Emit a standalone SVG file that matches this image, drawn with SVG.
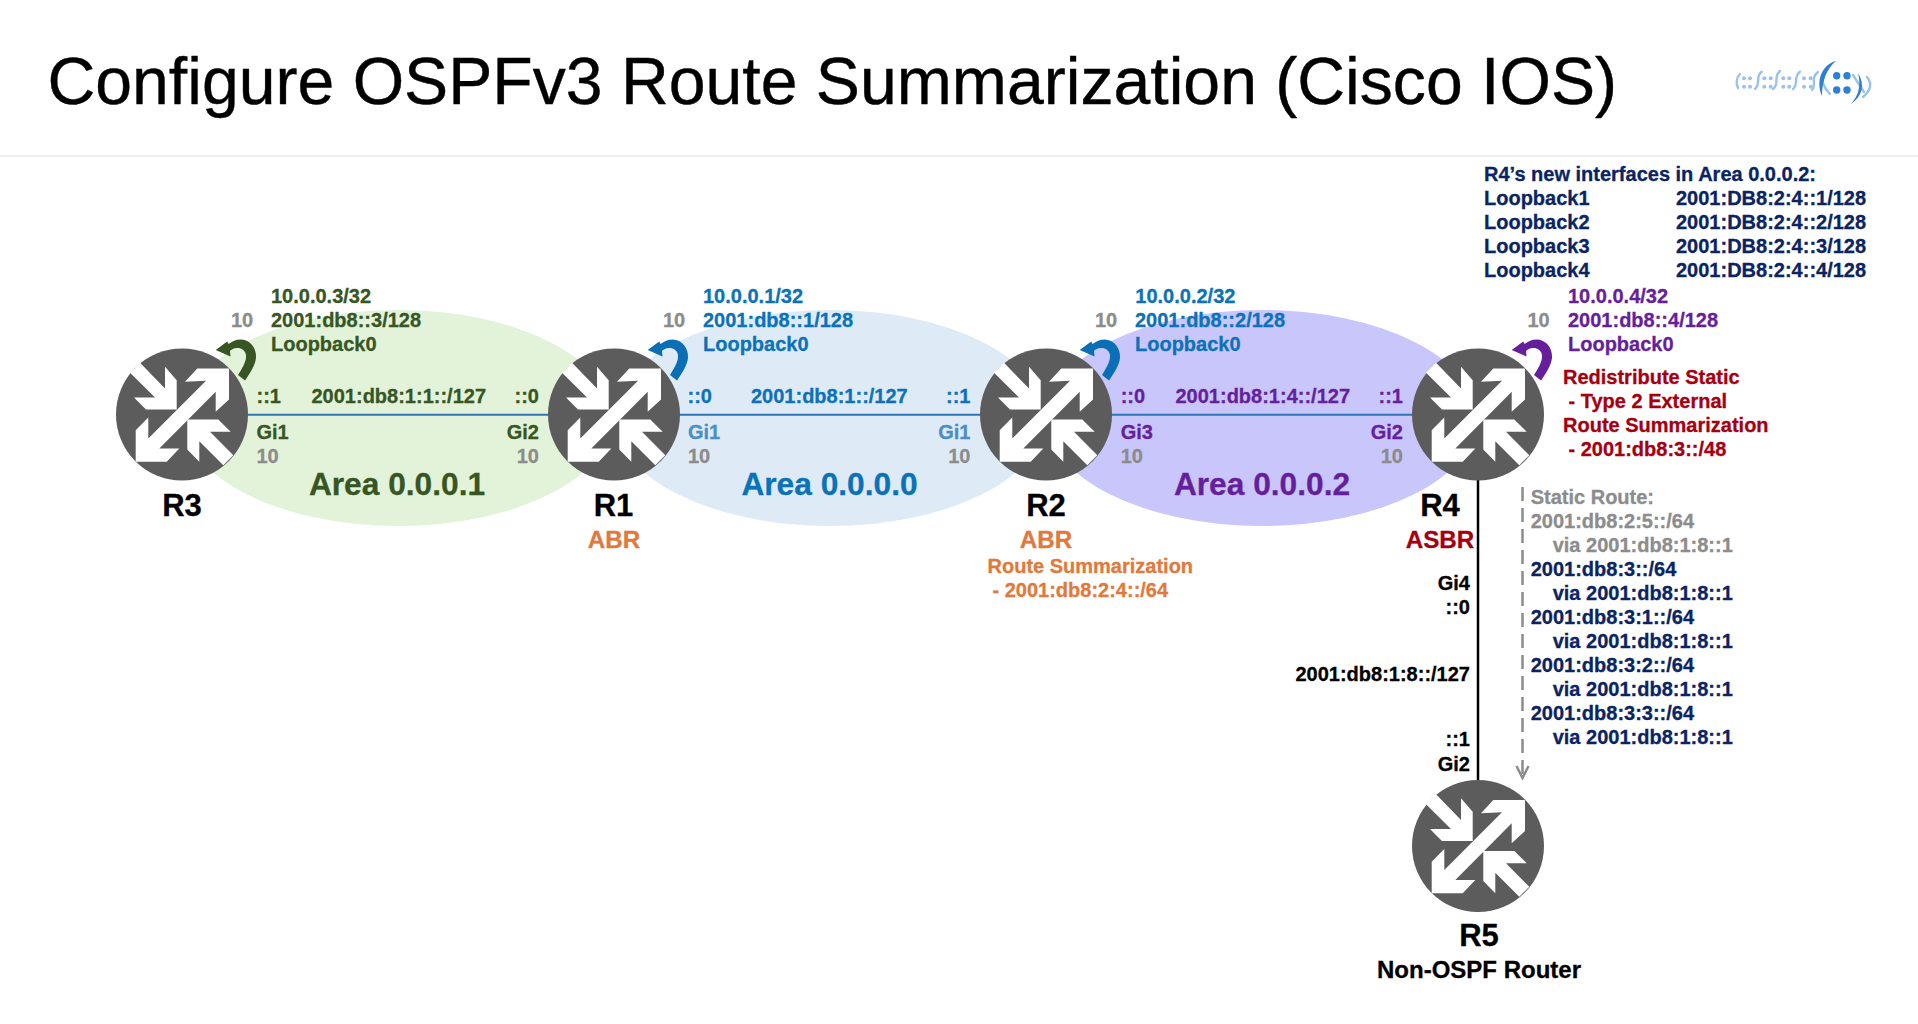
<svg xmlns="http://www.w3.org/2000/svg" xmlns:xlink="http://www.w3.org/1999/xlink" width="1918" height="1024" viewBox="0 0 1918 1024">
<style>
text{font-family:"Liberation Sans",Arial,sans-serif;font-weight:bold;font-size:20px;stroke-width:.3}
.end{text-anchor:end}.mid{text-anchor:middle}
.name{font-size:31px;fill:#000;stroke:#000;text-anchor:middle}
.role{font-size:24.2px;text-anchor:middle}
.area{font-size:31.7px;text-anchor:middle}
.title{font-size:66.15px;font-weight:normal;fill:#000;stroke:#000;stroke-width:.4}
.g{fill:#375623;stroke:#375623}.b{fill:#0b72b9;stroke:#0b72b9}.lb{fill:#4a8ec6;stroke:#4a8ec6}.p{fill:#661f9c;stroke:#661f9c}.c{fill:#8c8c8c;stroke:#8c8c8c}.o{fill:#e07a3c;stroke:#e07a3c}.r{fill:#a50010;stroke:#a50010}.n{fill:#0a2463;stroke:#0a2463}.k{fill:#000;stroke:#000}
</style>
<defs>
<g id="router">
<circle r="66" fill="#5c5c5c"/>
<path fill="#fff" d="M15.3,-46H47V-15L33.7,-2.7V-22.7L-22.7,34H-2.7L-15.3,47.3H-46.3V15.7L-33.7,3V24L24,-33.7L3,-32.7Z"/>
<path fill="#fff" d="M-42,-51.7L-17,-26V-47.7L-5.3,-34.3V-5H-36L-48,-17H-27L-52,-41.7Z"/>
<path fill="#fff" d="M5.3,5H36.3L48.7,17.3H28L51.3,40.7L41.3,50.7L17.3,26.7V47.3L5.3,35Z"/>
</g>
<path id="loop" d="M56,-39.5C60,-46 64.5,-53 64,-59C63.5,-64.5 59,-67 54,-66.5C51,-66 49.5,-65 48,-63.5L48.5,-58L33.7,-64.5L45.2,-73L46.5,-70.5C50,-73 54,-75 58.5,-75C68,-75 74.5,-66.5 74,-57C73.5,-50 68.5,-42 63,-34Z"/>
<marker id="open" markerWidth="16" markerHeight="16" refX="13" refY="7" orient="auto" markerUnits="userSpaceOnUse"><path d="M1,1L13,7L1,13" fill="none" stroke="#8c8c8c" stroke-width="2.5"/></marker>
</defs>
<rect width="1918" height="1024" fill="#fff"/>
<text id="title" class="title" x="47.5" y="104">Configure OSPFv3 Route Summarization (Cisco IOS)</text>
<line x1="0" y1="156" x2="1918" y2="156" stroke="#e8e8e8" stroke-width="1.5"/>
<g id="logo" fill="none" stroke-linecap="round">
<g fill="#9cc2ea"><circle cx="1744" cy="78.3" r="2"/><circle cx="1750" cy="78.3" r="2"/><circle cx="1744" cy="86.7" r="2"/><circle cx="1750" cy="86.7" r="2"/><circle cx="1764.3" cy="78.3" r="2"/><circle cx="1770.7" cy="78.3" r="2"/><circle cx="1764.3" cy="86.7" r="2"/><circle cx="1770.7" cy="86.7" r="2"/><circle cx="1783.3" cy="78.3" r="2"/><circle cx="1789.3" cy="78.3" r="2"/><circle cx="1783.3" cy="86.7" r="2"/><circle cx="1789.3" cy="86.7" r="2"/><circle cx="1804" cy="78.3" r="2"/><circle cx="1810.7" cy="78.3" r="2"/><circle cx="1804" cy="86.7" r="2"/><circle cx="1810.7" cy="86.7" r="2"/></g>
<g stroke="#9cc2ea" stroke-width="2.4"><path d="M1740,74C1736,78 1736,84 1738,88"/><path d="M1761.7,71.7C1755,76 1761,84 1755,89"/><path d="M1780,71C1773,76 1780,84 1773,89"/><path d="M1800,71.7C1793,76 1799,84 1793,89"/><path d="M1818,72C1810,78 1817,85 1812,90"/><path d="M1824,74C1820,80 1824,88 1830,94"/><path d="M1867,77C1872,83 1871,90 1863,97"/><path d="M1853,75L1864,92"/></g>
<g fill="#2f7ed8"><circle cx="1836.7" cy="75.7" r="3.7"/><circle cx="1847" cy="75.7" r="3.7"/><circle cx="1836.7" cy="90" r="3.7"/><circle cx="1847" cy="90" r="3.7"/></g>
<path fill="#2f7ed0" d="M1836,61C1823,64 1815,80 1822,96C1822,82 1826,69 1836,61Z"/>
<path fill="#2f7ed0" d="M1858,73C1865,84 1863,96 1851,104C1859,95 1861,85 1858,73Z"/>
</g>
<g id="areas">
<ellipse cx="398" cy="418" rx="214" ry="108" fill="#e2f3d9"/>
<ellipse cx="830" cy="418" rx="215" ry="108" fill="#deebf7"/>
<ellipse cx="1262" cy="418" rx="215" ry="108" fill="#c9c6fb"/>
</g>
<g id="connectors" fill="none">
<line x1="248" y1="414.7" x2="1412" y2="414.7" stroke="#2e75b6" stroke-width="2"/>
<line x1="1478" y1="480" x2="1478" y2="781" stroke="#000" stroke-width="2.5"/>
<line x1="1522.5" y1="487" x2="1522.5" y2="778" stroke="#8c8c8c" stroke-width="2.5" stroke-dasharray="14 7" marker-end="url(#open)"/>
</g>
<g id="R3"><use xlink:href="#router" href="#router" x="182" y="414.5"/><use xlink:href="#loop" href="#loop" x="182" y="414.5" fill="#375623"/>
<text class="name" x="182" y="516">R3</text>
<text class="g" x="271" y="302.7">10.0.0.3/32</text><text class="g" x="271" y="327">2001:db8::3/128</text><text class="g" x="271" y="351">Loopback0</text><text class="c" x="231" y="327">10</text></g>
<g id="R1"><use xlink:href="#router" href="#router" x="614" y="414.5"/><use xlink:href="#loop" href="#loop" x="614" y="414.5" fill="#0b6fb5"/>
<text class="name" x="613.5" y="516">R1</text><text class="role o" x="614" y="547.5">ABR</text>
<text class="b" x="703" y="302.7">10.0.0.1/32</text><text class="b" x="703" y="327">2001:db8::1/128</text><text class="b" x="703" y="351">Loopback0</text><text class="c" x="663" y="327">10</text></g>
<g id="R2"><use xlink:href="#router" href="#router" x="1046" y="414.5"/><use xlink:href="#loop" href="#loop" x="1046" y="414.5" fill="#0b6fb5"/>
<text class="name" x="1046" y="516">R2</text><text class="role o" x="1046" y="547.5">ABR</text>
<text class="o" x="987.5" y="572.7">Route Summarization</text><text class="o" x="992.5" y="597.2">- 2001:db8:2:4::/64</text>
<text class="b" x="1135.3" y="302.7">10.0.0.2/32</text><text class="b" x="1135" y="327">2001:db8::2/128</text><text class="b" x="1135" y="351">Loopback0</text><text class="c" x="1095" y="327">10</text></g>
<g id="R4"><use xlink:href="#router" href="#router" x="1478" y="414.5"/><use xlink:href="#loop" href="#loop" x="1478" y="414.5" fill="#661f9c"/>
<text class="name" x="1440" y="516">R4</text><text class="role r" x="1440" y="547.5">ASBR</text>
<text class="p" x="1568" y="302.7">10.0.0.4/32</text><text class="p" x="1568" y="327">2001:db8::4/128</text><text class="p" x="1568" y="351">Loopback0</text><text class="c" x="1527.5" y="327">10</text>
<text class="r" x="1563" y="384">Redistribute Static</text><text class="r" x="1568.5" y="408">- Type 2 External</text><text class="r" x="1563" y="432">Route Summarization</text><text class="r" x="1568.5" y="456">- 2001:db8:3::/48</text>
<text class="n" x="1484" y="181">R4’s new interfaces in Area 0.0.0.2:</text>
<text class="n" x="1484" y="205">Loopback1</text><text class="n" x="1676" y="205">2001:DB8:2:4::1/128</text>
<text class="n" x="1484" y="229">Loopback2</text><text class="n" x="1676" y="229">2001:DB8:2:4::2/128</text>
<text class="n" x="1484" y="253">Loopback3</text><text class="n" x="1676" y="253">2001:DB8:2:4::3/128</text>
<text class="n" x="1484" y="277">Loopback4</text><text class="n" x="1676" y="277">2001:DB8:2:4::4/128</text>
<text class="c" x="1530.7" y="504">Static Route:</text><text class="c" x="1530.7" y="528">2001:db8:2:5::/64</text><text class="c" x="1552.7" y="552">via 2001:db8:1:8::1</text>
<text class="n" x="1530.7" y="576">2001:db8:3::/64</text><text class="n" x="1552.7" y="600">via 2001:db8:1:8::1</text>
<text class="n" x="1530.7" y="624">2001:db8:3:1::/64</text><text class="n" x="1552.7" y="648">via 2001:db8:1:8::1</text>
<text class="n" x="1530.7" y="672">2001:db8:3:2::/64</text><text class="n" x="1552.7" y="696">via 2001:db8:1:8::1</text>
<text class="n" x="1530.7" y="720">2001:db8:3:3::/64</text><text class="n" x="1552.7" y="744">via 2001:db8:1:8::1</text></g>
<g id="R5"><use xlink:href="#router" href="#router" x="1478" y="846"/>
<text class="name" x="1479" y="946">R5</text><text class="k mid" x="1479" y="977.5" style="font-size:24px">Non-OSPF Router</text></g>
<g id="labels">
<text class="area g" x="397" y="495">Area 0.0.0.1</text><text class="area b" x="829.5" y="495">Area 0.0.0.0</text><text class="area p" x="1262" y="495">Area 0.0.0.2</text>
<text class="g" x="256.5" y="403">::1</text><text class="g" x="311.5" y="403">2001:db8:1:1::/127</text><text class="g end" x="539" y="403">::0</text>
<text class="g" x="256.5" y="439">Gi1</text><text class="c" x="256.5" y="463">10</text><text class="g end" x="539" y="439">Gi2</text><text class="c end" x="539" y="463">10</text>
<text class="b" x="687.5" y="403">::0</text><text class="b" x="751" y="403">2001:db8:1::/127</text><text class="b end" x="970.5" y="403">::1</text>
<text class="lb" x="688" y="439">Gi1</text><text class="c" x="688" y="463">10</text><text class="lb end" x="970.5" y="439">Gi1</text><text class="c end" x="970.5" y="463">10</text>
<text class="p" x="1120.7" y="403">::0</text><text class="p" x="1175.5" y="403">2001:db8:1:4::/127</text><text class="p end" x="1403" y="403">::1</text>
<text class="p" x="1120.7" y="439">Gi3</text><text class="c" x="1120.7" y="463">10</text><text class="p end" x="1403" y="439">Gi2</text><text class="c end" x="1403" y="463">10</text>
<text class="k end" x="1470" y="590">Gi4</text><text class="k end" x="1470" y="614">::0</text><text class="k end" x="1470" y="680.7">2001:db8:1:8::/127</text><text class="k end" x="1470" y="746">::1</text><text class="k end" x="1470" y="770.7">Gi2</text>
</g>
</svg>
